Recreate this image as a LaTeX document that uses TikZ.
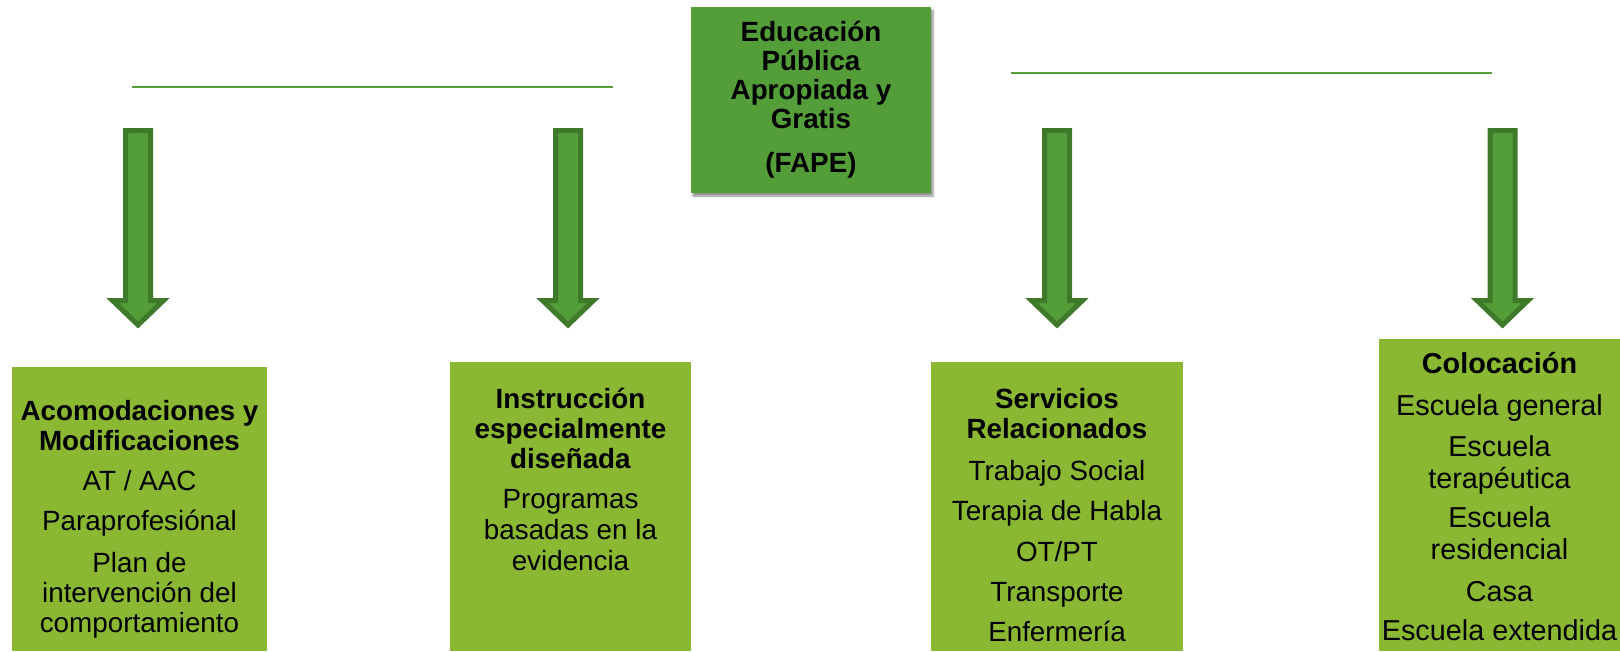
\documentclass[tikz,border=0pt]{standalone}
\usepackage{fontspec}
\setmainfont{Liberation Sans}
\usetikzlibrary{shadows.blur}
\definecolor{topgreen}{HTML}{549E39}
\definecolor{boxgreen}{HTML}{8AB833}
\definecolor{arrowedge}{HTML}{3F7A2B}
\begin{document}
\begin{tikzpicture}[x=1pt,y=-1pt,
  topbox/.style={fill=topgreen, minimum width=240pt, minimum height=186pt, inner sep=0pt,
    blur shadow={shadow blur steps=6, shadow xshift=2pt, shadow yshift=-3pt, shadow opacity=45}},
  leafbox/.style={fill=boxgreen, inner sep=0pt, anchor=north west},
  boxtext/.style={align=center, inner sep=0pt, anchor=north, font=\fontsize{27.8}{30}\selectfont},
  hline/.style={draw=topgreen, line width=2.5pt},
  blockarrow/.pic={
    \filldraw[fill=topgreen, draw=arrowedge, line width=5pt, line join=miter]
      (-12.5,2.5) -- (12.5,2.5) -- (12.5,172.5) -- (25.5,172.5) -- (0,197)
      -- (-25.5,172.5) -- (-12.5,172.5) -- cycle;
  }]
\useasboundingbox (0,0) rectangle (1620,651);

% top box
\node[topbox] (top) at (811,100) {};
\node[boxtext, font=\bfseries\fontsize{27.8}{29}\selectfont] (toptext) at (811,20)
  {\rule{0pt}{21pt}Educación\\Pública\\Apropiada y\\Gratis\\[15pt](FAPE)};

% horizontal lines
\coordinate (l1a) at (132,87);
\coordinate (l1b) at (613,87);
\coordinate (l2a) at (1011,73);
\coordinate (l2b) at (1492,73);
\draw[hline] (l1a) -- (l1b);
\draw[hline] (l2a) -- (l2b);

% block arrows
\pic (a1) at (138,128) {blockarrow};
\pic (a2) at (568,128) {blockarrow};
\pic (a3) at (1057,128) {blockarrow};
\pic (a4) at (1502.5,128) {blockarrow};

% bottom boxes
\node[leafbox, minimum width=255pt, minimum height=284pt] (b1) at (12,367) {};
\node[leafbox, minimum width=241pt, minimum height=289pt] (b2) at (450,362) {};
\node[leafbox, minimum width=252pt, minimum height=289pt] (b3) at (931,362) {};
\node[leafbox, minimum width=241pt, minimum height=312pt] (b4) at (1379,339) {};

\node[boxtext] (t1) at (139.5,399)
  {\rule{0pt}{21pt}\textbf{Acomodaciones y}\\\textbf{Modificaciones}\\[10pt]AT / AAC\\[10pt]Paraprofesiónal\\[12pt]Plan de\\intervención del\\comportamiento};
\node[boxtext, font=\fontsize{27.8}{31}\selectfont] (t2) at (570.5,387)
  {\rule{0pt}{21pt}\textbf{Instrucción}\\[-1pt]\textbf{especialmente}\\[-1pt]\textbf{diseñada}\\[9pt]Programas\\basadas en la\\evidencia};
\node[boxtext] (t3) at (1057,387)
  {\rule{0pt}{21pt}\textbf{Servicios}\\\textbf{Relacionados}\\[12pt]Trabajo Social\\[10pt]Terapia de Habla\\[11pt]OT/PT\\[10pt]Transporte\\[10pt]Enfermería};
\node[boxtext, font=\fontsize{28.8}{32}\selectfont] (t4) at (1499.5,352)
  {\rule{0pt}{21pt}\textbf{Colocación}\\[10pt]Escuela general\\[9pt]Escuela\\terapéutica\\[7pt]Escuela\\residencial\\[10pt]Casa\\[7pt]Escuela extendida};
\end{tikzpicture}
\end{document}
